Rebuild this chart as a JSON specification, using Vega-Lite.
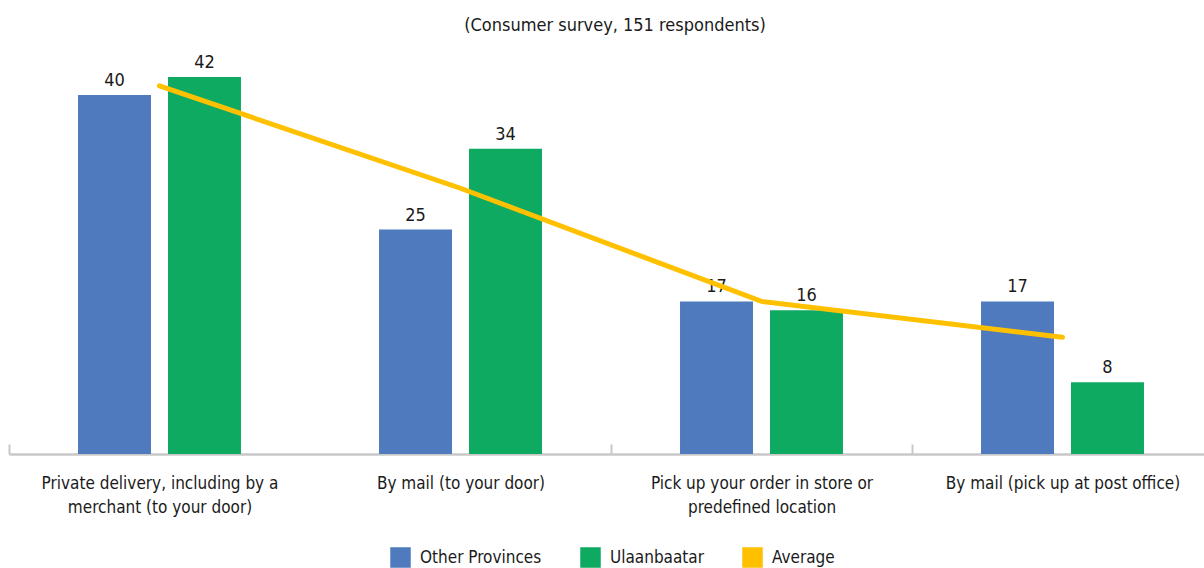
{
  "$schema": "https://vega.github.io/schema/vega-lite/v6.json",
  "autosize": {"type": "none"},
  "width": 1204,
  "height": 404,
  "padding": {"left": 9, "top": 50, "right": -9, "bottom": 114},
  "title": {"text": "(Consumer survey, 151 respondents)", "fontSize": 18, "font": "DejaVu Sans Condensed", "fontWeight": "normal", "color": "#1a1a1a", "offset": 15, "dx": 4},
  "config": {"view": {"stroke": null}, "font": "DejaVu Sans Condensed"},
  "datasets": {
    "bars": [
      {"method": "Private delivery, including by a merchant (to your door)", "region": "Other Provinces", "value": 40},
      {"method": "Private delivery, including by a merchant (to your door)", "region": "Ulaanbaatar", "value": 42},
      {"method": "By mail (to your door)", "region": "Other Provinces", "value": 25},
      {"method": "By mail (to your door)", "region": "Ulaanbaatar", "value": 34},
      {"method": "Pick up your order in store or predefined location", "region": "Other Provinces", "value": 17},
      {"method": "Pick up your order in store or predefined location", "region": "Ulaanbaatar", "value": 16},
      {"method": "By mail (pick up at post office)", "region": "Other Provinces", "value": 17},
      {"method": "By mail (pick up at post office)", "region": "Ulaanbaatar", "value": 8}
    ],
    "avg": [
      {"method": "Private delivery, including by a merchant (to your door)", "series": "Average", "value": 41},
      {"method": "By mail (to your door)", "series": "Average", "value": 29.6},
      {"method": "Pick up your order in store or predefined location", "series": "Average", "value": 17},
      {"method": "By mail (pick up at post office)", "series": "Average", "value": 13}
    ]
  },
  "encoding": {
    "x": {
      "field": "method", "type": "nominal", "sort": null,
      "scale": {"paddingInner": 0, "paddingOuter": 0},
      "axis": {
        "title": null, "labelAngle": 0, "labelFontSize": 17, "labelColor": "#1a1a1a",
        "labelFont": "DejaVu Sans Condensed", "labelLimit": 0,
        "labelExpr": "datum.value == 'Private delivery, including by a merchant (to your door)' ? ['Private delivery, including by a', 'merchant (to your door)'] : datum.value == 'Pick up your order in store or predefined location' ? ['Pick up your order in store or', 'predefined location'] : datum.value",
        "labelBaseline": "top", "labelLineHeight": 24, "labelPadding": 31,
        "domainColor": "#c8c8c8", "domainWidth": 2.5,
        "tickWidth": 2, "tickSize": -10, "tickBand": "extent", "tickExtra": false,
        "tickColor": {"condition": {"test": "datum.index === 0", "value": "rgba(255,255,255,0)"}, "value": "#c8c8c8"}
      }
    },
    "y": {"field": "value", "type": "quantitative", "scale": {"domain": [0, 45]}, "axis": null}
  },
  "layer": [
    {
      "data": {"name": "bars"},
      "mark": {"type": "bar"},
      "encoding": {
        "xOffset": {"field": "region", "type": "nominal", "sort": ["Other Provinces", "Ulaanbaatar"], "scale": {"paddingInner": 0.189, "paddingOuter": 0.767}},
        "color": {
          "field": "region", "type": "nominal",
          "scale": {"domain": ["Other Provinces", "Ulaanbaatar", "Average"], "range": ["#4F7BBE", "#0EAA62", "#FFC000"]},
          "legend": {
            "orient": "none", "legendX": 381, "legendY": 497, "direction": "horizontal", "title": null, "symbolType": "square",
            "symbolSize": 361, "labelFontSize": 17, "labelFont": "DejaVu Sans Condensed", "labelColor": "#1a1a1a",
            "columnPadding": 36, "labelOffset": 9, "labelLimit": 0
          }
        }
      }
    },
    {
      "data": {"name": "bars"},
      "mark": {"type": "text", "baseline": "alphabetic", "dy": -9, "fontSize": 18, "color": "#1a1a1a"},
      "encoding": {
        "xOffset": {"field": "region", "type": "nominal", "sort": ["Other Provinces", "Ulaanbaatar"]},
        "text": {"field": "value", "type": "quantitative"}
      }
    },
    {
      "data": {"name": "avg"},
      "mark": {"type": "line", "strokeWidth": 5, "strokeCap": "round"},
      "encoding": {
        "color": {"field": "series", "type": "nominal"}
      }
    }
  ]
}
